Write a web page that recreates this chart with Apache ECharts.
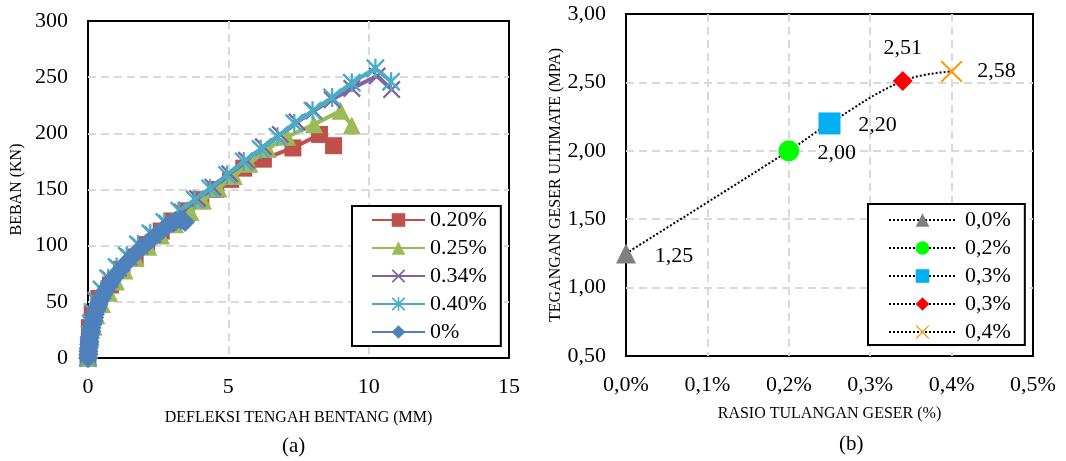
<!DOCTYPE html>
<html><head><meta charset="utf-8">
<script src="https://cdn.jsdelivr.net/npm/echarts@6/dist/echarts.min.js"></script>
<style>html,body{margin:0;padding:0;background:#fff}#c{width:1066px;height:461px}</style>
</head><body><div id="c"></div>
<script>
// ---------- Chart (a): load vs mid-span deflection ----------
const seriesNamesA = ['0.20%', '0.25%', '0.34%', '0.40%', '0%'];
const data020 = [[0,0],[0.02,12],[0.05,27],[0.15,39],[0.39,53],[0.8,65],[1.21,79],[1.68,90],[2.09,101],[2.61,113],[3.02,122],[3.49,131],[4.02,141],[4.55,150],[5.08,159],[5.55,169],[6.25,177],[7.3,187],[8.25,199],[8.75,189]];
const data025 = [[0,0],[0.05,8],[0.1,18],[0.2,28],[0.3,38],[0.5,48],[0.75,58],[1.0,68],[1.3,78],[1.7,89],[2.15,99],[2.6,109],[3.1,119],[3.65,130],[4.1,140],[4.65,151],[5.2,162],[5.75,173],[6.4,186],[7.1,197],[8.05,208],[9.0,220],[9.4,207]];
const data034 = [[0,0],[0.03,10],[0.07,20],[0.12,30],[0.2,40],[0.33,50],[0.52,60],[0.78,70],[1.08,80],[1.45,90],[1.85,100],[2.3,110],[2.8,120],[3.35,130],[3.9,142],[4.45,152],[5.05,164],[5.65,176],[6.25,188],[6.85,199],[7.45,210],[8.05,220],[8.7,230],[9.4,240],[10.3,251],[10.82,239]];
const data040 = [[0,0],[0.03,11],[0.06,21],[0.1,31],[0.17,41],[0.3,51],[0.48,61],[0.72,71],[1.02,81],[1.38,91],[1.78,101],[2.22,111],[2.72,121],[3.25,131],[3.8,141],[4.35,151],[4.95,163],[5.55,175],[6.15,186],[6.75,197],[7.35,209],[8.0,220],[8.7,232],[9.4,245],[10.24,258],[10.8,246]];
const data000 = [[0,0],[0.01,3],[0.02,6],[0.03,9],[0.04,12],[0.05,15],[0.07,18],[0.09,21],[0.11,24],[0.13,27],[0.16,30],[0.19,33],[0.22,36],[0.25,39],[0.29,42],[0.33,45],[0.38,48],[0.43,51],[0.49,54],[0.55,57],[0.62,60],[0.69,63],[0.77,66],[0.85,69],[0.94,72],[1.03,75],[1.13,78],[1.23,81],[1.34,84],[1.45,87],[1.57,90],[1.69,93],[1.82,96],[1.95,99],[2.08,102],[2.22,105],[2.36,108],[2.5,111],[2.65,114],[2.8,117],[2.96,120],[3.12,122],[3.3,123],[3.46,121]];
const xTicksA = [0, 5, 10, 15];
const yTicksA = [0, 50, 100, 150, 200, 250, 300];

// ---------- Chart (b): ultimate shear stress vs shear reinforcement ratio ----------
const ratioB = [0.00, 0.20, 0.25, 0.34, 0.40];
const stressB = [1.25, 2.00, 2.20, 2.51, 2.58];
const legendLabelsB = ['0,0%', '0,2%', '0,3%', '0,3%', '0,4%'];
const xTicksB = [0, 0.1, 0.2, 0.3, 0.4, 0.5];
const yTicksB = [0.5, 1.0, 1.5, 2.0, 2.5, 3.0];

const FONT = 'Liberation Serif';
function xPath(d) {
  const a = d, b = 10 - d, m1 = 5 - d, m2 = 5 + d;
  return 'M0,' + a + ' L' + a + ',0 L5,' + m1 + ' L' + b + ',0 L10,' + a + ' L' + m2 + ',5 L10,' + b +
    ' L' + b + ',10 L5,' + m2 + ' L' + a + ',10 L0,' + b + ' L' + m1 + ',5 Z';
}
const X_THICK = 'path://' + xPath(0.9);
const ASTER = 'path://' + xPath(0.9) + ' M4.4,0 L5.6,0 L5.6,10 L4.4,10 Z';
const X_THIN = 'path://' + xPath(0.65);

const grid = { color: '#D9D9D9', width: 2, type: [8, 5] };
const colorsA = ['#C0504D', '#9BBB59', '#8064A2', '#4BACC6', '#4F81BD'];
const symbolsA = ['rect', 'triangle', X_THICK, ASTER, 'diamond'];
const sizesA = [17, 18, 18, 19, 20];
const dataA = [data020, data025, data034, data040, data000];

const seriesA = seriesNamesA.map((n, i) => ({
  name: n, type: 'line', xAxisIndex: 0, yAxisIndex: 0,
  data: dataA[i], symbol: symbolsA[i], symbolSize: sizesA[i], showAllSymbol: true,
  lineStyle: { color: colorsA[i], width: 4 },
  itemStyle: { color: colorsA[i] },
  emphasis: { disabled: true }, animation: false, z: 2 + i
}));

const symbolsB = ['triangle', 'circle', 'rect', 'diamond', X_THIN];
const sizesB = [20, 21, 22, 20, 22];
const colorsB = ['#808080', '#00FF00', '#00B0F0', '#FF0000', '#FF9900'];
const labelOffB = [[48, 3], [48, 2], [48, 2], [0, -33], [45, 0]];
const fmt2 = v => v.toFixed(2).replace('.', ',');

const seriesB = [{
  type: 'line', xAxisIndex: 1, yAxisIndex: 1, smooth: 0.4,
  data: ratioB.map((x, i) => [x, stressB[i]]), symbol: 'none',
  lineStyle: { color: '#000', width: 2, type: [2, 2] }, animation: false, z: 1, silent: true
}].concat(ratioB.map((x, i) => ({
  name: 'b' + i, type: 'line', xAxisIndex: 1, yAxisIndex: 1,
  data: [[x, stressB[i]]], symbol: symbolsB[i], symbolSize: sizesB[i],
  itemStyle: { color: colorsB[i] },
  lineStyle: { color: '#000', width: 1.6, type: [2, 2] },
  label: { show: true, position: 'inside', offset: labelOffB[i], formatter: p => fmt2(p.value[1]),
    fontSize: 22, fontFamily: FONT, color: '#000' },
  emphasis: { disabled: true }, animation: false, z: 3
})));

const axLabel = (extra) => Object.assign({ color: '#000', fontSize: 22, fontFamily: FONT }, extra);
const nameStyle = { color: '#000', fontSize: 16, fontFamily: FONT };

const option = {
  backgroundColor: '#fff',
  animation: false,
  grid: [
    { left: 88, top: 21, width: 421, height: 337, show: true, borderColor: '#000', borderWidth: 2, backgroundColor: 'transparent' },
    { left: 626, top: 14, width: 407, height: 342, show: true, borderColor: '#000', borderWidth: 2, backgroundColor: 'transparent' }
  ],
  xAxis: [
    { type: 'value', gridIndex: 0, min: xTicksA[0], max: xTicksA[xTicksA.length - 1], interval: 5,
      axisLine: { show: false }, axisTick: { show: false },
      splitLine: { show: true, showMinLine: false, showMaxLine: false, lineStyle: grid },
      axisLabel: axLabel({ margin: 18 }),
      name: 'DEFLEKSI TENGAH BENTANG (MM)', nameLocation: 'middle', nameGap: 52, nameTextStyle: nameStyle },
    { type: 'value', gridIndex: 1, min: xTicksB[0], max: xTicksB[xTicksB.length - 1], interval: 0.1,
      axisLine: { show: false }, axisTick: { show: false },
      splitLine: { show: true, showMinLine: false, showMaxLine: false, lineStyle: grid },
      axisLabel: axLabel({ margin: 18, formatter: v => v.toFixed(1).replace('.', ',') + '%' }),
      name: 'RASIO TULANGAN GESER (%)', nameLocation: 'middle', nameGap: 50, nameTextStyle: nameStyle }
  ],
  yAxis: [
    { type: 'value', gridIndex: 0, min: yTicksA[0], max: yTicksA[yTicksA.length - 1], interval: 50,
      axisLine: { show: false }, axisTick: { show: false },
      splitLine: { show: true, showMinLine: false, showMaxLine: false, lineStyle: grid },
      axisLabel: axLabel({ margin: 20 }),
      name: 'BEBAN (KN)', nameLocation: 'middle', nameGap: 63, nameTextStyle: nameStyle },
    { type: 'value', gridIndex: 1, min: yTicksB[0], max: yTicksB[yTicksB.length - 1], interval: 0.5,
      axisLine: { show: false }, axisTick: { show: false },
      splitLine: { show: true, showMinLine: false, showMaxLine: false, lineStyle: grid },
      axisLabel: axLabel({ margin: 20, formatter: v => fmt2(v) }),
      name: 'TEGANGAN GESER ULTIMATE (MPA)', nameLocation: 'middle', nameGap: 60, nameTextStyle: nameStyle }
  ],
  legend: [
    { data: seriesNamesA, left: 352, top: 206, orient: 'vertical', itemWidth: 53, itemHeight: 17, itemGap: 6,
      padding: [3, 14, 3, 19], borderColor: '#000', borderWidth: 2, backgroundColor: '#fff',
      textStyle: { fontSize: 22, lineHeight: 22, fontFamily: FONT, color: '#000' }, selectedMode: false },
    { data: ['b0', 'b1', 'b2', 'b3', 'b4'], left: 868, top: 204, orient: 'vertical', itemWidth: 67, itemHeight: 17, itemGap: 6,
      padding: [5, 14, 2, 20], borderColor: '#000', borderWidth: 2, backgroundColor: '#fff',
      formatter: n => legendLabelsB[+n.slice(1)],
      textStyle: { fontSize: 22, lineHeight: 22, fontFamily: FONT, color: '#000', padding: [0, 0, 0, 4] }, selectedMode: false }
  ],
  graphic: [
    { type: 'text', left: 282, top: 436, style: { text: '(a)', fontSize: 21, fontFamily: FONT, fill: '#000' } },
    { type: 'text', left: 839, top: 434, style: { text: '(b)', fontSize: 21, fontFamily: FONT, fill: '#000' } }
  ],
  series: seriesA.concat(seriesB)
};
const chart = echarts.init(document.getElementById('c'), null, { renderer: 'canvas' });
chart.setOption(option);
</script>
</body></html>
